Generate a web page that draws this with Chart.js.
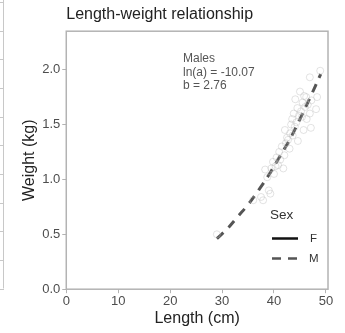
<!DOCTYPE html>
<html>

<head>
  <script src="https://cdn.jsdelivr.net/npm/chart.js@4/dist/chart.umd.min.js"></script>
  <style>
    body { margin: 0; background: #fff; }
  </style>
</head>

<body>
  <canvas id="myChart" width="345" height="333"></canvas>

  <script type="text/javascript">
    // observed males (length cm, weight kg)
    var lengths = [29.0, 36.0, 37.5, 37.9, 38.3, 38.7, 39.0, 39.3, 39.5, 39.8, 40.0, 40.3, 40.5, 40.8, 41.0,
      41.2, 41.5, 41.8, 42.0, 42.1, 42.3, 42.5, 42.7, 43.0, 43.1, 43.3, 43.5, 43.6, 43.8, 44.0,
      44.1, 44.3, 44.5, 44.6, 44.8, 45.0, 45.2, 45.4, 45.5, 45.7, 45.8, 46.0, 46.2, 46.3, 46.5,
      46.9, 46.9, 47.1, 47.2, 48.1, 48.3, 48.9];
    var weights = [0.50, 0.81, 0.84, 0.81, 1.09, 1.02, 0.90, 0.87, 1.10, 1.16, 1.05, 1.12, 1.20, 1.13, 1.25,
      1.18, 1.30, 1.10, 1.22, 1.45, 1.33, 1.38, 1.36, 1.28, 1.42, 1.50, 1.55, 1.40, 1.60, 1.48,
      1.73, 1.52, 1.65, 1.35, 1.58, 1.80, 1.62, 1.57, 1.70, 1.45, 1.76, 1.66, 1.75, 1.55, 1.68,
      1.93, 1.60, 1.47, 1.72, 1.64, 1.75, 1.99];

    // fitted curve for males
    var fitLen = [29, 31, 33, 35, 37, 39, 41, 43, 45, 47, 49];
    var fitW = [0.46, 0.55, 0.66, 0.77, 0.90, 1.04, 1.20, 1.36, 1.55, 1.75, 1.96];

    var xTicks = [0, 10, 20, 30, 40, 50];
    var yTicks = [0, 0.5, 1.0, 1.5, 2.0];
    var noteLines = ['Males', 'ln(a) = -10.07', 'b = 2.76'];

    var font = "'Liberation Sans', Arial, sans-serif";
    var frameCol = '#b3b3b3';

    var pts = lengths.map((l, i) => ({ x: l, y: weights[i] }));
    var fit = fitLen.map((l, i) => ({ x: l, y: fitW[i] }));

    // frame, side panel bit, note and legend
    var extras = {
      id: 'extras',
      beforeDraw(c) {
        var g = c.ctx;
        g.save();
        g.strokeStyle = '#c8c8c8';
        g.lineWidth = 1;
        g.beginPath();
        g.moveTo(3.5, 0); g.lineTo(3.5, 288.5);
        for (var k = 0; k <= 10; k++) {
          var yy = Math.round(2 + k * 28.65) + 0.5;
          g.moveTo(0, yy); g.lineTo(4, yy);
        }
        g.stroke();
        g.restore();
      },
      afterDraw(c) {
        var g = c.ctx, a = c.chartArea;
        g.save();
        g.strokeStyle = frameCol;
        g.lineWidth = 1.5;
        g.strokeRect(a.left, a.top, a.right - a.left, a.bottom - a.top);

        g.fillStyle = '#555';
        g.font = '12px ' + font;
        g.textBaseline = 'middle';
        noteLines.forEach((t, i) => g.fillText(t, 183, 59 + i * 13.5));

        g.fillStyle = '#333';
        g.font = '13.5px ' + font;
        g.fillText('Sex', 270, 215);
        g.font = '11.5px ' + font;
        g.fillText('F', 310, 239);
        g.fillText('M', 309, 259);

        g.lineWidth = 2.5;
        g.strokeStyle = '#111';
        g.beginPath(); g.moveTo(272, 238.5); g.lineTo(298, 238.5); g.stroke();
        g.strokeStyle = '#555';
        g.setLineDash([9, 7]);
        g.beginPath(); g.moveTo(272, 258.5); g.lineTo(298, 258.5); g.stroke();
        g.restore();
      }
    };

    var ctx = document.getElementById('myChart').getContext('2d');
    var chart = new Chart(ctx, {
      type: 'scatter',
      data: {
        datasets: [{
          label: 'obs',
          data: pts,
          pointRadius: 3.5,
          pointBorderWidth: 1,
          borderColor: 'rgba(185,185,185,0.4)',
          backgroundColor: 'rgba(0,0,0,0)',
          pointHoverRadius: 3.5
        }, {
          label: 'M',
          type: 'line',
          data: fit,
          showLine: true,
          pointRadius: 0,
          borderColor: '#555',
          borderWidth: 3,
          borderDash: [9, 7],
          tension: 0.4,
          fill: false
        }]
      },
      plugins: [extras],
      options: {
        responsive: false,
        animation: false,
        layout: { padding: { left: 20, right: 17, top: 0, bottom: 0 } },
        plugins: {
          legend: { display: false },
          tooltip: { enabled: false },
          title: {
            display: true,
            text: 'Length-weight relationship',
            align: 'start',
            fullSize: false,
            color: '#222',
            font: { family: font, size: 16, weight: 'normal' },
            padding: { top: 5, bottom: 7 }
          }
        },
        scales: {
          x: {
            type: 'linear',
            min: 0,
            max: 50.4,
            afterBuildTicks: s => { s.ticks = xTicks.map(v => ({ value: v })); },
            grid: { display: true, drawOnChartArea: false, drawTicks: true, tickLength: 4, color: frameCol },
            border: { display: false },
            ticks: { color: '#4d4d4d', font: { family: font, size: 13 }, padding: 0, maxRotation: 0 },
            title: { display: true, text: 'Length (cm)', color: '#222', font: { family: font, size: 16 }, padding: { top: 0, bottom: 5 } }
          },
          y: {
            min: 0,
            max: 2.35,
            afterBuildTicks: s => { s.ticks = yTicks.map(v => ({ value: v })); },
            grid: { display: true, drawOnChartArea: false, drawTicks: true, tickLength: 4, color: frameCol },
            border: { display: false },
            ticks: { color: '#4d4d4d', font: { family: font, size: 13 }, padding: 2, callback: v => v.toFixed(1) },
            title: { display: true, text: 'Weight (kg)', color: '#222', font: { family: font, size: 16 }, padding: { top: 0, bottom: 1 } }
          }
        }
      }
    });
  </script>
</body>

</html>
